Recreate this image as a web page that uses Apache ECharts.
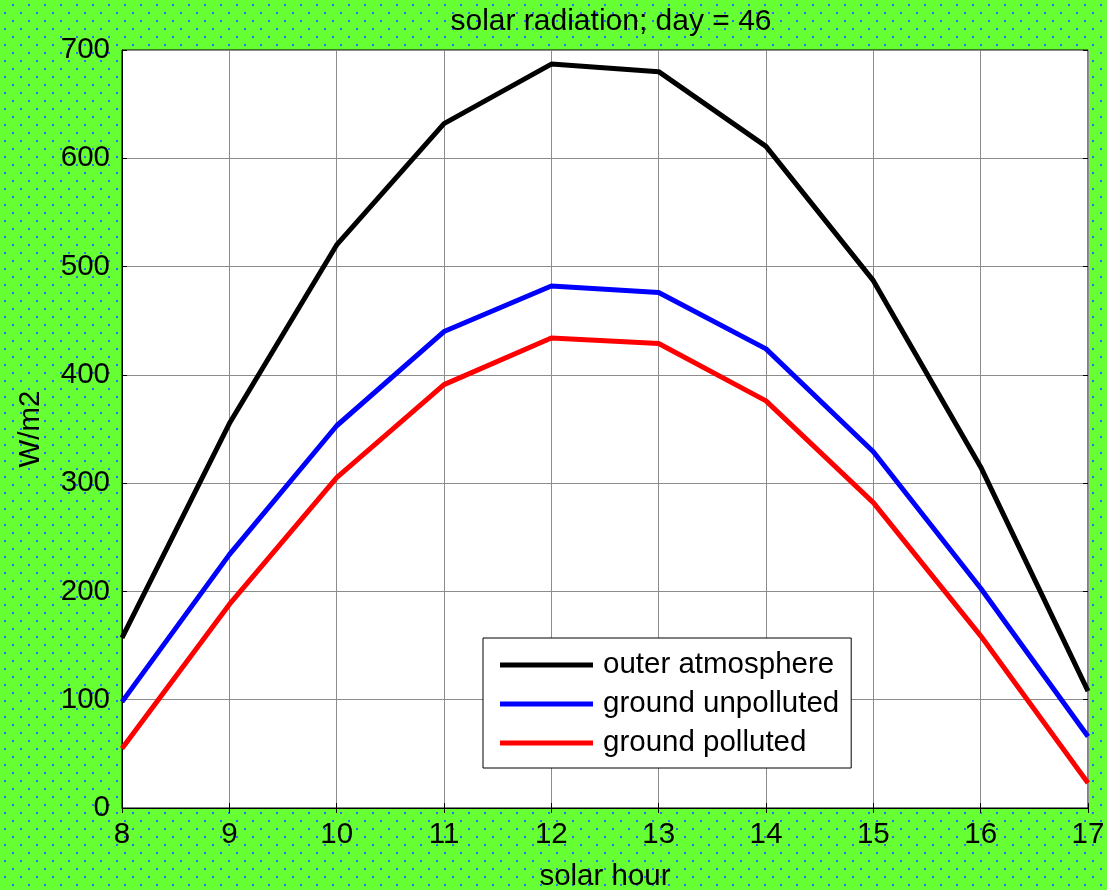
<!DOCTYPE html>
<html>
<head>
<meta charset="utf-8">
<script src="https://cdn.jsdelivr.net/npm/echarts@6/dist/echarts.min.js"></script>
<style>
  html, body { margin: 0; padding: 0; }
  #main { width: 1107px; height: 890px; }
</style>
</head>
<body>
<div id="main"></div>
<script>
  // data
  var hours = [8, 9, 10, 11, 12, 13, 14, 15, 16, 17];
  var outerAtmosphere = [157, 355, 520, 632, 687, 680, 611, 487, 315, 108];
  var groundUnpolluted = [98, 234, 353, 440, 482, 476, 424, 329, 203, 66];
  var groundPolluted = [55, 188, 305, 391, 434, 429, 376, 282, 159, 23];
  var seriesNames = ['outer atmosphere', 'ground unpolluted', 'ground polluted'];

  // green dotted background like the matlab figure
  var tile = document.createElement('canvas');
  tile.width = 16; tile.height = 16;
  var ctx = tile.getContext('2d');
  ctx.fillStyle = '#66ff33';
  ctx.fillRect(0, 0, 16, 16);
  ctx.fillStyle = '#2a6cff';
  ctx.fillRect(12, 4, 2, 2);
  ctx.fillRect(4, 12, 2, 2);
  var dom = document.getElementById('main');
  dom.style.backgroundImage = 'url(' + tile.toDataURL() + ')';

  function pairs(ys) {
    return hours.map(function (h, i) { return [h, ys[i]]; });
  }

  var font = 'Liberation Sans, Arial, sans-serif';
  var fs = 29.5;
  var tickOnly = {
    axisLine: { show: false },
    axisTick: { show: true, inside: true, length: 5, lineStyle: { color: '#000' } },
    axisLabel: { show: false },
    splitLine: { show: false }
  };
  var myChart = echarts.init(dom);
  var option = {
    backgroundColor: 'transparent',
    animation: false,
    title: {
      text: 'solar radiation; day = 46',
      left: 606,
      textAlign: 'center',
      top: 2,
      textStyle: { fontFamily: font, fontSize: 30, fontWeight: 'normal', color: '#000' }
    },
    legend: {
      orient: 'vertical',
      left: 483,
      top: 638,
      width: 369,
      backgroundColor: '#fff',
      borderColor: '#000',
      borderWidth: 1,
      padding: [12, 12, 10, 17],
      itemGap: 9,
      itemWidth: 93,
      itemHeight: 5,
      icon: 'rect',
      data: seriesNames,
      textStyle: { fontFamily: font, fontSize: fs, lineHeight: 30, color: '#000', padding: [0, 0, 0, 5] }
    },
    grid: {
      left: 122,
      right: 19,
      top: 50,
      bottom: 82,
      outerBoundsMode: 'none',
      show: true,
      backgroundColor: '#fff',
      borderColor: '#000',
      borderWidth: 1
    },
    xAxis: [{
      type: 'value',
      min: 8,
      max: 17,
      interval: 1,
      name: 'solar hour',
      nameLocation: 'middle',
      nameGap: 54,
      nameTextStyle: { fontFamily: font, fontSize: fs, color: '#000' },
      axisLine: { show: true, lineStyle: { color: '#000', width: 1 } },
      axisTick: { show: true, inside: true, length: 5, lineStyle: { color: '#000' } },
      axisLabel: { margin: 12, fontFamily: font, fontSize: fs, color: '#000' },
      splitLine: { show: true, lineStyle: { color: '#8c8c8c', width: 1 } }
    }, Object.assign({
      type: 'value', min: 8, max: 17, interval: 1, position: 'top'
    }, tickOnly)],
    yAxis: [{
      type: 'value',
      min: 0,
      max: 700,
      interval: 100,
      name: 'W/m2',
      nameLocation: 'middle',
      nameGap: 76,
      nameTextStyle: { fontFamily: font, fontSize: fs, color: '#000' },
      axisLine: { show: true, lineStyle: { color: '#000', width: 1 } },
      axisTick: { show: true, inside: true, length: 5, lineStyle: { color: '#000' } },
      axisLabel: { margin: 12, fontFamily: font, fontSize: fs, color: '#000' },
      splitLine: { show: true, lineStyle: { color: '#8c8c8c', width: 1 } }
    }, Object.assign({
      type: 'value', min: 0, max: 700, interval: 100, position: 'right'
    }, tickOnly)],
    series: [
      {
        name: seriesNames[0],
        type: 'line',
        data: pairs(outerAtmosphere),
        showSymbol: false,
        color: '#000000',
        lineStyle: { width: 5, color: '#000000' }
      },
      {
        name: seriesNames[1],
        type: 'line',
        data: pairs(groundUnpolluted),
        showSymbol: false,
        color: '#0000ff',
        lineStyle: { width: 5, color: '#0000ff' }
      },
      {
        name: seriesNames[2],
        type: 'line',
        data: pairs(groundPolluted),
        showSymbol: false,
        color: '#ff0000',
        lineStyle: { width: 5, color: '#ff0000' }
      }
    ]
  };
  myChart.setOption(option);
</script>
</body>
</html>
